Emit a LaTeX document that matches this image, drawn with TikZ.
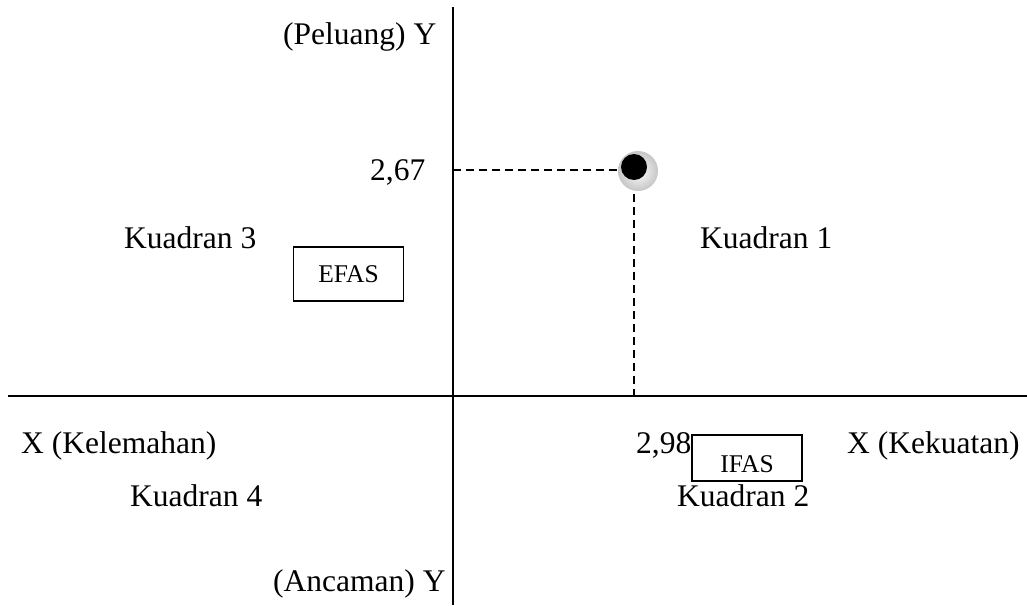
\documentclass[tikz,border=0pt]{standalone}
\usepackage{fontspec}
\setmainfont{Liberation Serif}
\usepackage{tikz}
\usetikzlibrary{positioning,calc}

\begin{document}
\begin{tikzpicture}[x=1pt,y=-1pt,
  lbl/.style={anchor=base west, inner sep=0pt, font=\fontsize{31.5}{35}\selectfont},
  tag/.style={draw, line width=1.3pt, minimum width=110pt, minimum height=54pt, inner sep=0pt,
              font=\fontsize{25.5}{28}\selectfont},
  axis/.style={line width=1.8pt},
  guide/.style={line width=1.4pt, dash pattern=on 8pt off 5pt}
]
  \useasboundingbox (0,0) rectangle (1027,605);

  \coordinate (ytop) at (453,7);
  \coordinate (ybot) at (453,605);
  \coordinate (xlft) at (8,396);
  \coordinate (xrgt) at (1027,396);
  \coordinate (yval) at (453,170);
  \coordinate (xval) at (634,396);

  \draw[axis] (ytop) -- (ybot);
  \draw[axis] (xlft) -- (xrgt);

  \node[lbl] (peluang) at (283,44) {(Peluang) Y};
  \node[lbl] (ancaman) at (273,591) {(Ancaman) Y};
  \node[lbl] (lemah) at (21,453) {X (Kelemahan)};
  \node[lbl] (kuat) at (847,453) {X (Kekuatan)};
  \node[lbl] (k3) at (124,248) {Kuadran 3};
  \node[lbl] (k1) at (700,248) {Kuadran 1};
  \node[lbl] (k4) at (130,506) {Kuadran 4};
  \node[lbl] (k2) at (677,506) {Kuadran 2};
  \node[lbl] (v267) at (370,180) {2,67};
  \node[lbl] (v298) at (636,453) {2,98};

  \node[tag] (efas) at (348.5,274) {EFAS};
  \node[tag, minimum height=46pt, text height=28pt, text depth=0pt] (ifas) at (747,458) {IFAS};

  \shade[inner color=white, outer color=gray!45] (638,171) circle (20pt);
  \node[circle, fill=black, minimum size=26pt, inner sep=0pt] (pt) at (634,167) {};

  \draw[guide] (yval) -- ($(pt.west)+(0,3)$);
  \draw[guide] ($(pt.south)+(0,14)$) -- (xval);
\end{tikzpicture}
\end{document}
